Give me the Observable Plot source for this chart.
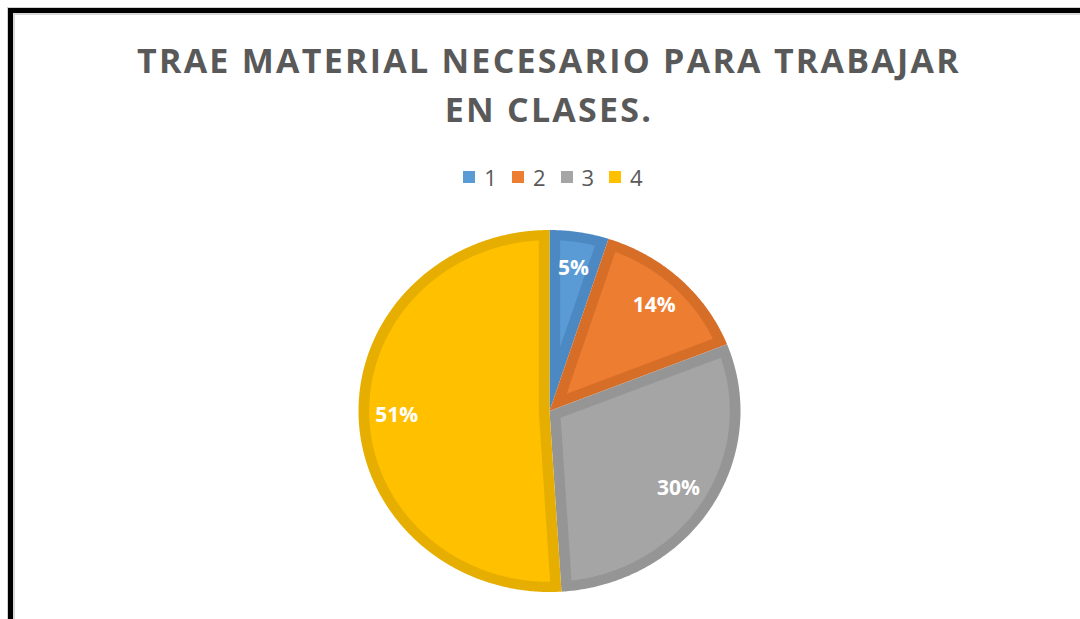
<!DOCTYPE html>
<html>
<head>
<meta charset="utf-8">
<script src="https://cdn.jsdelivr.net/npm/d3@7"></script>
<script src="https://cdn.jsdelivr.net/npm/@observablehq/plot@0.6"></script>
<style>
  html, body { margin: 0; padding: 0; width: 1080px; height: 619px; overflow: hidden; background: #fff; }
  #frame { position: absolute; left: 8px; top: 8px; width: 2000px; height: 2000px;
    border: 5px solid #000; box-shadow: 0 0 0 1px #d0d0d0, inset 0 0 0 2px #d8d8d8; }
  #chart { position: absolute; left: 0; top: 0; }
  #title { position: absolute; left: 0; width: 1098px; top: 36px; text-align: center;
    font-family: "Open Sans", sans-serif; font-weight: 700; font-size: 34px; line-height: 49px;
    letter-spacing: 2.25px; color: #595959; }
  #legend { position: absolute; left: 0; width: 1106px; top: 162px; display: flex; justify-content: center;
    font-family: "Open Sans", sans-serif; font-size: 22px; color: #595959; }
  .item { display: flex; align-items: center; margin: 0 7.5px; }
  .sw { width: 12px; height: 12px; margin-right: 9px; }
</style>
</head>
<body>
<div id="frame"></div>
<div id="chart"></div>
<div id="title">TRAE MATERIAL NECESARIO PARA TRABAJAR<br>EN CLASES.</div>
<div id="legend"></div>
<script>
const categories = ["1", "2", "3", "4"];
const values = [5, 14, 30, 51];
const labels = ["5%", "14%", "30%", "51%"];
const fills = ["#5B9BD5", "#ED7D31", "#A5A5A5", "#FFC000"];
const borders = ["#4C89C2", "#D76E28", "#959595", "#E6AE00"];

// legend
const leg = document.getElementById("legend");
categories.forEach((c, i) => {
  const it = document.createElement("div"); it.className = "item";
  const sw = document.createElement("div"); sw.className = "sw"; sw.style.background = fills[i];
  const tx = document.createElement("span"); tx.textContent = c;
  it.appendChild(sw); it.appendChild(tx); leg.appendChild(it);
});

const total = d3.sum(values);
const TAU = 2 * Math.PI;
const d = 0.056; // inset border width in data units
let acc = 0;
const slices = values.map((v, i) => {
  const a0 = acc / total * TAU; acc += v; const a1 = acc / total * TAU;
  return {i, a0, a1, mid: (a0 + a1) / 2};
});
const pt = (a, r) => ({x: r * Math.sin(a), y: r * Math.cos(a)});
function arcPts(a0, a1, r) {
  const n = Math.max(4, Math.ceil((a1 - a0) / 0.01));
  return d3.range(n + 1).map(k => pt(a0 + (a1 - a0) * k / n, r));
}
function outer(s) { return [pt(0, 0), ...arcPts(s.a0, s.a1, 1), pt(0, 0)]; }
function inner(s) {
  const th = s.a1 - s.a0;
  const apex = pt(s.mid, d / Math.sin(th / 2));
  const R = 1 - d;
  const dl = Math.asin(d / R);
  return [apex, ...arcPts(s.a0 + dl, s.a1 - dl, R), apex];
}

const marks = [];
slices.forEach(s => {
  marks.push(Plot.line(outer(s), {x: "x", y: "y", fill: borders[s.i], stroke: "none"}));
  marks.push(Plot.line(inner(s), {x: "x", y: "y", fill: fills[s.i], stroke: "none"}));
});
marks.push(Plot.text(slices, {
  x: s => 0.8 * Math.sin(s.mid), y: s => 0.8 * Math.cos(s.mid),
  text: s => labels[s.i], fill: "white", fontSize: 21, fontWeight: 700,
  fontFamily: "Open Sans", textAnchor: "middle"
}));

const cx = 549, cy = 410.5, rx = 191, ry = 181;
const plot = Plot.plot({
  width: 1080, height: 619, margin: 0,
  x: {domain: [-1, 1], range: [cx - rx, cx + rx], axis: null},
  y: {domain: [-1, 1], range: [cy + ry, cy - ry], axis: null},
  style: {background: "transparent", overflow: "visible"},
  marks
});
document.getElementById("chart").appendChild(plot);
</script>
</body>
</html>
